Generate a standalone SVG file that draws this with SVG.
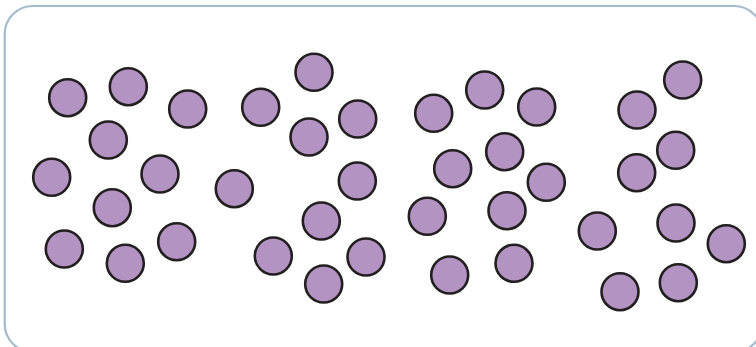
<svg xmlns="http://www.w3.org/2000/svg" width="756" height="347" viewBox="0 0 756 347">
<defs>
<style>
.p{fill:#b293c2;stroke:#231f20;stroke-width:2.6}
.frame{fill:#ffffff;stroke:#a3bccd;stroke-width:2.2}
</style>
</defs>
<rect width="756" height="347" fill="#ffffff"/>
<rect class="frame" x="4.7" y="6" width="757.5" height="346" rx="28" ry="28"/>
<g id="group1">
<circle class="p" cx="67.7" cy="97.7" r="18.5"/>
<circle class="p" cx="128.3" cy="86.7" r="18.5"/>
<circle class="p" cx="187.7" cy="109" r="18.5"/>
<circle class="p" cx="108.3" cy="140" r="18.5"/>
<circle class="p" cx="51.7" cy="177.3" r="18.5"/>
<circle class="p" cx="160" cy="174" r="18.5"/>
<circle class="p" cx="112.3" cy="207.7" r="18.5"/>
<circle class="p" cx="64.3" cy="249" r="18.5"/>
<circle class="p" cx="125.3" cy="263.3" r="18.5"/>
<circle class="p" cx="176.7" cy="241.7" r="18.5"/>
</g>
<g id="group2">
<circle class="p" cx="260.7" cy="107.3" r="18.5"/>
<circle class="p" cx="314" cy="72.3" r="18.5"/>
<circle class="p" cx="357.7" cy="119" r="18.5"/>
<circle class="p" cx="309" cy="137" r="18.5"/>
<circle class="p" cx="234.3" cy="188.7" r="18.5"/>
<circle class="p" cx="357.3" cy="181" r="18.5"/>
<circle class="p" cx="321.3" cy="221" r="18.5"/>
<circle class="p" cx="273.3" cy="256" r="18.5"/>
<circle class="p" cx="366" cy="257" r="18.5"/>
<circle class="p" cx="323.7" cy="284" r="18.5"/>
</g>
<g id="group3">
<circle class="p" cx="433.7" cy="113.3" r="18.5"/>
<circle class="p" cx="484.7" cy="90" r="18.5"/>
<circle class="p" cx="536.7" cy="107" r="18.5"/>
<circle class="p" cx="452.7" cy="168.7" r="18.5"/>
<circle class="p" cx="504.7" cy="151.7" r="18.5"/>
<circle class="p" cx="546.3" cy="182.3" r="18.5"/>
<circle class="p" cx="427.3" cy="216.3" r="18.5"/>
<circle class="p" cx="507" cy="210.7" r="18.5"/>
<circle class="p" cx="449.7" cy="275" r="18.5"/>
<circle class="p" cx="514" cy="263.3" r="18.5"/>
</g>
<g id="group4">
<circle class="p" cx="682.7" cy="80" r="18.5"/>
<circle class="p" cx="637" cy="110" r="18.5"/>
<circle class="p" cx="675.7" cy="150.3" r="18.5"/>
<circle class="p" cx="636.7" cy="172.7" r="18.5"/>
<circle class="p" cx="597.3" cy="231" r="18.5"/>
<circle class="p" cx="676" cy="223" r="18.5"/>
<circle class="p" cx="726.3" cy="243.7" r="18.5"/>
<circle class="p" cx="620" cy="291.7" r="18.5"/>
<circle class="p" cx="678.3" cy="282.7" r="18.5"/>
</g>
</svg>
